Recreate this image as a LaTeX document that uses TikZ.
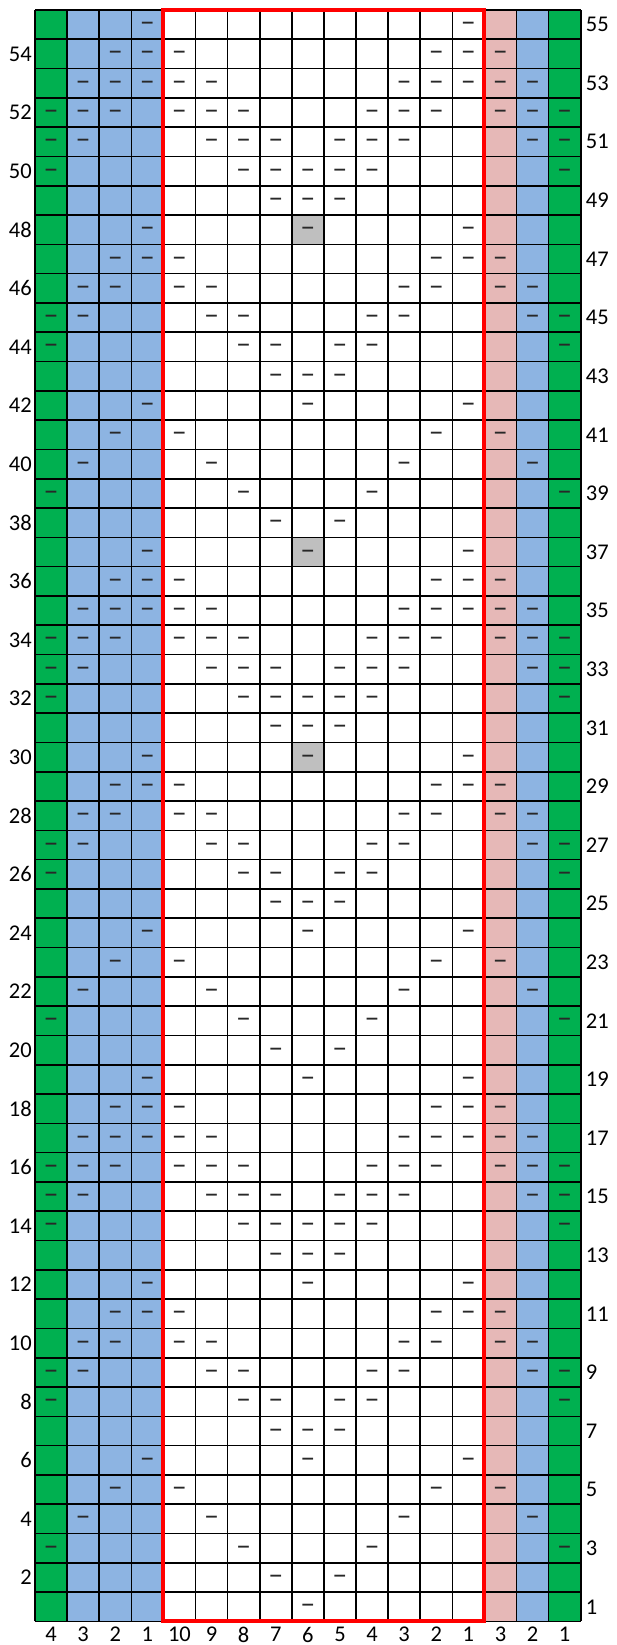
\documentclass[tikz,border=0pt]{standalone}
\usepackage{fontspec}
\setmainfont{Carlito}
\definecolor{kgreen}{RGB}{0,176,80}
\definecolor{kblue}{RGB}{141,180,226}
\definecolor{kpink}{RGB}{230,184,183}
\definecolor{kgray}{RGB}{191,191,191}
\definecolor{kdash}{RGB}{40,40,40}
\tikzset{
  gridline/.style={black, line width=1.6pt},
  thickgrid/.style={black, line width=2.6pt},
  redframe/.style={draw=red, line width=4pt},
  purl/.style={text=kdash, font=\fontsize{30}{30}\selectfont, inner sep=0pt, anchor=base, yshift=-7pt},
  lab/.style={text=black, font=\fontsize{22.5}{22.5}\selectfont, inner sep=0pt}
}
\begin{document}
\begin{tikzpicture}[x=1pt,y=1pt]
\useasboundingbox (0,0) rectangle (616,1645);
\def\L{35}
\def\W{32.1}
\def\B{23.5}
\def\H{29.3}
% column fills
\foreach \c/\col in {1/kgreen,2/kblue,3/kblue,4/kblue,15/kpink,16/kblue,17/kgreen}{
  \fill[\col] ({\L+(\c-1)*\W},\B) rectangle ({\L+\c*\W},{\B+55*\H});
}
% gray cells
\foreach \r in {30,37,48}{
  \fill[kgray] ({\L+8*\W},{\B+(\r-1)*\H}) rectangle ({\L+9*\W},{\B+\r*\H});
}
% grid
\foreach \i in {0,...,17}{
  \draw[gridline] ({\L+\i*\W},\B) -- ({\L+\i*\W},{\B+55*\H});
}
\foreach \j in {0,...,55}{
  \draw[gridline] (\L,{\B+\j*\H}) -- ({\L+17*\W},{\B+\j*\H});
}
\draw[thickgrid] (\L,{\B+8*\H}) -- ({\L+17*\W},{\B+8*\H});
% red frame
\draw[redframe] ({\L+4*\W},\B) rectangle ({\L+14*\W},{\B+55*\H});
% purl dashes
\foreach \r/\cs in {
55/{4,14},
54/{3,4,5,13,14,15},
53/{2,3,4,5,6,12,13,14,15,16},
52/{1,2,3,5,6,7,11,12,13,15,16,17},
51/{1,2,6,7,8,10,11,12,16,17},
50/{1,7,8,9,10,11,17},
49/{8,9,10},
48/{4,9,14},
47/{3,4,5,13,14,15},
46/{2,3,5,6,12,13,15,16},
45/{1,2,6,7,11,12,16,17},
44/{1,7,8,10,11,17},
43/{8,9,10},
42/{4,9,14},
41/{3,5,13,15},
40/{2,6,12,16},
39/{1,7,11,17},
38/{8,10},
37/{4,9,14},
36/{3,4,5,13,14,15},
35/{2,3,4,5,6,12,13,14,15,16},
34/{1,2,3,5,6,7,11,12,13,15,16,17},
33/{1,2,6,7,8,10,11,12,16,17},
32/{1,7,8,9,10,11,17},
31/{8,9,10},
30/{4,9,14},
29/{3,4,5,13,14,15},
28/{2,3,5,6,12,13,15,16},
27/{1,2,6,7,11,12,16,17},
26/{1,7,8,10,11,17},
25/{8,9,10},
24/{4,9,14},
23/{3,5,13,15},
22/{2,6,12,16},
21/{1,7,11,17},
20/{8,10},
19/{4,9,14},
18/{3,4,5,13,14,15},
17/{2,3,4,5,6,12,13,14,15,16},
16/{1,2,3,5,6,7,11,12,13,15,16,17},
15/{1,2,6,7,8,10,11,12,16,17},
14/{1,7,8,9,10,11,17},
13/{8,9,10},
12/{4,9,14},
11/{3,4,5,13,14,15},
10/{2,3,5,6,12,13,15,16},
9/{1,2,6,7,11,12,16,17},
8/{1,7,8,10,11,17},
7/{8,9,10},
6/{4,9,14},
5/{3,5,13,15},
4/{2,6,12,16},
3/{1,7,11,17},
2/{8,10},
1/{9}}{
  \foreach \c in \cs {
    \node[purl] (d-\r-\c) at ({\L+(\c-0.5)*\W},{\B+(\r-0.5)*\H}) {–};
  }
}
% row labels
\foreach \r in {2,4,...,54}{
  \node[lab, anchor=east] (rl-\r) at ({\L-3},{\B+(\r-0.5)*\H}) {\r};
}
\foreach \r in {1,3,...,55}{
  \node[lab, anchor=west] (rr-\r) at ({\L+17*\W+5},{\B+(\r-0.5)*\H}) {\r};
}
% column labels
\foreach \c/\t in {1/4,2/3,3/2,4/1,5/10,6/9,7/8,8/7,9/6,10/5,11/4,12/3,13/2,14/1,15/3,16/2,17/1}{
  \node[lab] (cl-\c) at ({\L+(\c-0.5)*\W},10.5) {\t};
}
\end{tikzpicture}
\end{document}
